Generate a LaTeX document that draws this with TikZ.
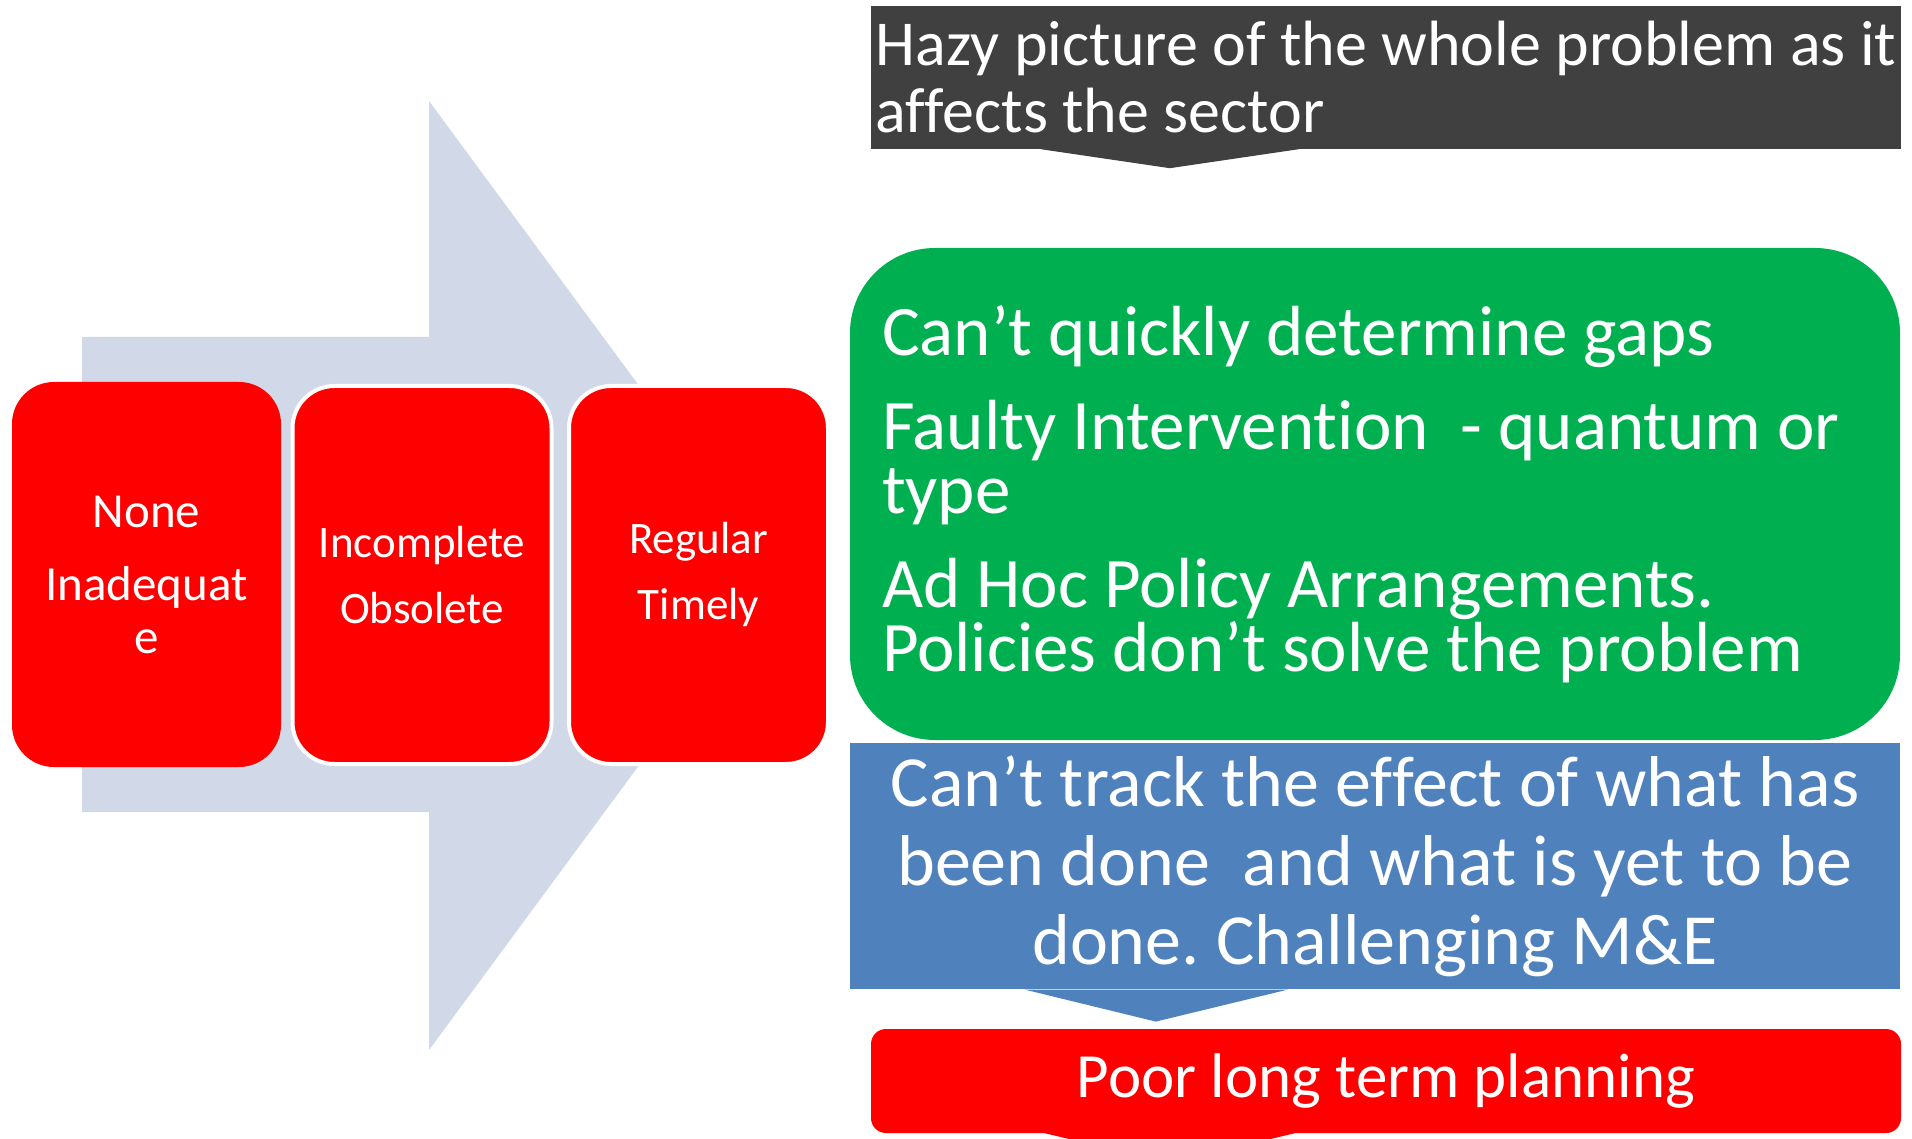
\documentclass[tikz,border=0pt]{standalone}
\usepackage{fontspec}
\setmainfont{Carlito}[Ligatures=NoCommon]
\frenchspacing
\usetikzlibrary{positioning}
\definecolor{haze}{RGB}{64,64,64}
\definecolor{leaf}{RGB}{0,176,80}
\definecolor{steel}{RGB}{79,129,189}
\definecolor{mist}{RGB}{209,216,232}
\tikzset{
  redbox/.style={fill=red, rounded corners=42, text=white, align=center, inner sep=0},
  framed/.style={redbox, draw=white, line width=4, minimum width=259, minimum height=378, font=\fontsize{45}{66}\selectfont},
  flatbox/.style={text=white, inner sep=0, font=\fontsize{64}{67}\selectfont}
}
\begin{document}
\begin{tikzpicture}[x=1pt,y=-1pt]
\useasboundingbox (0,0) rectangle (1912,1139);
\clip (0,0) rectangle (1912,1139);
% big arrow behind the boxes
\fill[mist] (82,337) -- (429,337) -- (429,101) -- (779,575.5) -- (429,1050) -- (429,812) -- (82,812) -- cycle;

\node[redbox, minimum width=269, minimum height=385, font=\fontsize{49}{53}\selectfont] (none) at (146.5,574.5) {None\\[20pt]Inadequat\\e};
\foreach \x/\name/\txt in {422/incomplete/{Incomplete\\Obsolete}, 698.5/regular/{Regular\\Timely}}
  \node[framed] (\name) at (\x,575) {\txt};

% right column
\node[flatbox, fill=haze, minimum width=1030, minimum height=143, align=left] (hazy) at (1386,77.5) {Hazy picture of the whole problem as it\\affects the sector};
\fill[haze] ([xshift=170]hazy.south west) -- ([xshift=299,yshift=-19]hazy.south west) -- ([xshift=428]hazy.south west) -- cycle;

\node[flatbox, fill=leaf, rounded corners=85, minimum width=1050, minimum height=492, text width=986, inner xsep=32, align=flush left, font=\fontsize{71}{64}\selectfont] (gaps) at (1375,494)
  {Can’t quickly determine gaps\\[30pt]Faulty Intervention\ \ - quantum or\\type\\[30pt]Ad Hoc Policy Arrangements.\\Policies don’t solve the problem};

\node[flatbox, fill=steel, minimum width=1050, minimum height=246, align=center, font=\fontsize{72}{79}\selectfont, below=3pt of gaps] (track)
  {Can’t track the effect of what has\\been done\ \ and what is yet to be\\done. Challenging M\&E};
\fill[steel] ([xshift=175]track.south west) -- ([xshift=306,yshift=-32]track.south west) -- ([xshift=438]track.south west) -- cycle;

\node[flatbox, fill=red, rounded corners=15, minimum width=1030, minimum height=104, font=\fontsize{63}{70}\selectfont] (poor) at (1386,1081) {Poor long term planning};
\fill[red] ([xshift=174]poor.south west) -- ([xshift=299,yshift=-30]poor.south west) -- ([xshift=424]poor.south west) -- cycle;
\end{tikzpicture}
\end{document}
